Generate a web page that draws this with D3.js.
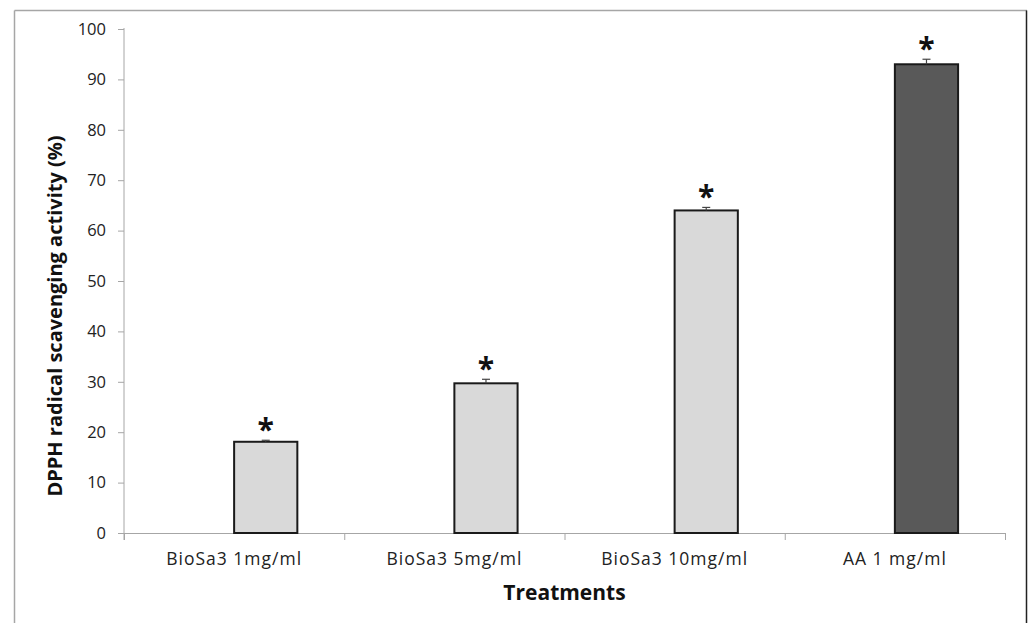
<!DOCTYPE html>
<html>
<head>
<meta charset="utf-8">
<script src="https://cdn.jsdelivr.net/npm/d3@7"></script>
<style>
  body { margin: 0; background: #fff; }
  svg { display: block; }
  svg text { font-family: "Open Sans", sans-serif; }
</style>
</head>
<body>
<svg id="chart" width="1029" height="623"></svg>
<script>
// DPPH radical scavenging activity per treatment
const categories = ["BioSa3 1mg/ml", "BioSa3 5mg/ml", "BioSa3 10mg/ml", "AA 1 mg/ml"];
const values = [18.1, 29.7, 64.0, 93.0];
const errors = [0.3, 0.8, 0.6, 1.0];
const fills = ["#d9d9d9", "#d9d9d9", "#d9d9d9", "#595959"];
const yTicks = [0, 10, 20, 30, 40, 50, 60, 70, 80, 90, 100];

const svg = d3.select("#chart");
const margin = { left: 124, right: 1005, top: 29, bottom: 533 };

// outer chart frame
svg.append("line").attr("x1", 14.5).attr("x2", 1027).attr("y1", 10.5).attr("y2", 10.5)
  .attr("stroke", "#a6a6a6").attr("stroke-width", 1.5);
svg.append("line").attr("x1", 14.5).attr("x2", 14.5).attr("y1", 10.5).attr("y2", 623)
  .attr("stroke", "#a6a6a6").attr("stroke-width", 1.5);
svg.append("line").attr("x1", 1026.5).attr("x2", 1026.5).attr("y1", 10.5).attr("y2", 623)
  .attr("stroke", "#222").attr("stroke-width", 1.5);

const x = d3.scaleBand().domain(categories).range([margin.left, margin.right]);
const y = d3.scaleLinear().domain([0, 100]).range([margin.bottom, margin.top]);
const barW = x.bandwidth() * 0.287;

// y axis
const yAxis = svg.append("g").attr("transform", `translate(${margin.left},0)`)
  .call(d3.axisLeft(y).tickValues(yTicks).tickSize(6).tickPadding(12));
yAxis.attr("font-family", null);
yAxis.select(".domain").attr("stroke", "#a6a6a6").attr("d", `M0,${margin.top - 1}V${margin.bottom + 7}`);
yAxis.selectAll(".tick line").attr("stroke", "#a6a6a6");
yAxis.selectAll(".tick text").attr("fill", "#222").style("font-size", "16.5px");

// x axis
const xAxis = svg.append("g").attr("transform", `translate(0,${margin.bottom})`)
  .call(d3.axisBottom(x).tickSize(0).tickPadding(20));
xAxis.attr("font-family", null);
xAxis.select(".domain").attr("stroke", "#a6a6a6");
xAxis.selectAll(".tick text").attr("fill", "#222")
  .style("font-size", "17.5px").style("letter-spacing", "1px");
// category boundary ticks
const bounds = categories.map(c => x(c)).concat([margin.right]);
svg.append("g").selectAll("line").data(bounds).join("line")
  .attr("x1", d => d + 0.5).attr("x2", d => d + 0.5)
  .attr("y1", margin.bottom).attr("y2", margin.bottom + 7)
  .attr("stroke", "#a6a6a6");

// bars (placed in the right half of each category slot)
const cx = c => x(c) + x.bandwidth() / 2;
svg.append("g").selectAll("rect").data(categories).join("rect")
  .attr("x", c => cx(c))
  .attr("y", (c, i) => y(values[i]))
  .attr("width", barW)
  .attr("height", (c, i) => y(0) - y(values[i]))
  .attr("fill", (c, i) => fills[i])
  .attr("stroke", "#1a1a1a").attr("stroke-width", 2);

// error bars
const eb = svg.append("g").attr("stroke", "#444").attr("stroke-width", 1.2);
categories.forEach((c, i) => {
  const mx = cx(c) + barW / 2;
  eb.append("line").attr("x1", mx).attr("x2", mx)
    .attr("y1", y(values[i])).attr("y2", y(values[i] + errors[i]));
  eb.append("line").attr("x1", mx - 4).attr("x2", mx + 4)
    .attr("y1", y(values[i] + errors[i])).attr("y2", y(values[i] + errors[i]));
});

// significance markers
svg.append("g").selectAll("text").data(categories).join("text")
  .attr("x", c => cx(c) + barW / 2)
  .attr("y", (c, i) => y(values[i] + errors[i]))
  .attr("text-anchor", "middle")
  .style("font-size", "30px").style("font-weight", "bold").attr("fill", "#111")
  .text("*");

// axis titles
svg.append("text")
  .attr("transform", `translate(62,316) rotate(-90)`)
  .attr("text-anchor", "middle")
  .style("font-size", "20px").style("font-weight", "bold").attr("fill", "#111")
  .text("DPPH radical scavenging activity (%)");
svg.append("text")
  .attr("x", (margin.left + margin.right) / 2).attr("y", 600)
  .attr("text-anchor", "middle")
  .style("font-size", "21px").style("font-weight", "bold").attr("fill", "#111")
  .text("Treatments");
</script>
</body>
</html>
